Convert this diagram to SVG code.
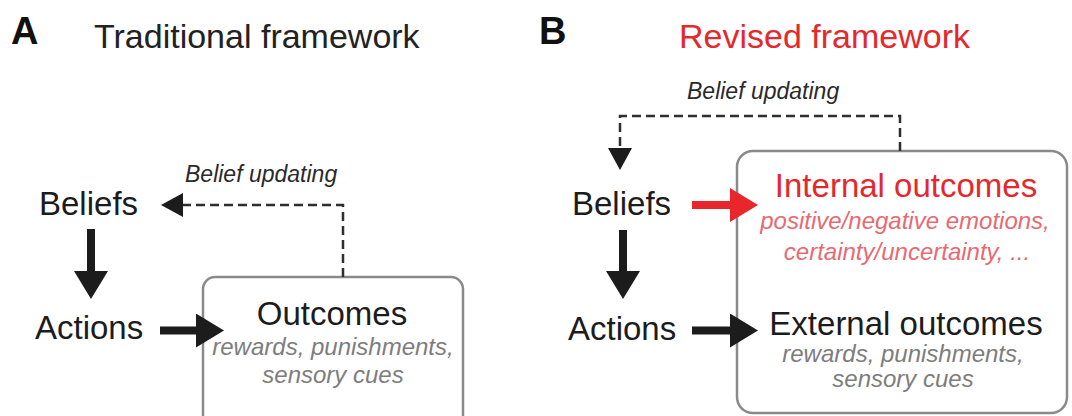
<svg xmlns="http://www.w3.org/2000/svg" width="1072" height="416" viewBox="0 0 1072 416">
<defs>
<style>
text{font-family:"Liberation Sans",Arial,sans-serif;}
.lbl{font-size:33px;fill:#1c1c1c;}
.ttl{font-size:34px;}
.panel{font-size:38px;font-weight:bold;fill:#111;}
.sub{font-size:24px;font-style:italic;fill:#7d7d7d;text-anchor:middle;}
.subr{font-size:24px;font-style:italic;fill:#e76a72;text-anchor:middle;}
.upd{font-size:23px;font-style:italic;fill:#2a2a2a;}
.box{fill:#fff;stroke:#8a8a8a;stroke-width:2.5;}
.thick{stroke:#1c1c1c;stroke-width:8;fill:none;}
.thickr{stroke:#e8262b;stroke-width:8;fill:none;}
.dash{stroke:#2e2e2e;stroke-width:2.5;fill:none;stroke-dasharray:9 5;}
</style>
<marker id="head" markerUnits="userSpaceOnUse" markerWidth="28" markerHeight="34" viewBox="0 0 28 34" refX="0" refY="17" orient="auto">
<path d="M0,0 L28,17 L0,34 z" fill="#1c1c1c"/>
</marker>
<marker id="headr" markerUnits="userSpaceOnUse" markerWidth="28" markerHeight="34" viewBox="0 0 28 34" refX="0" refY="17" orient="auto">
<path d="M0,0 L28,17 L0,34 z" fill="#e8262b"/>
</marker>
<marker id="dhead" markerUnits="userSpaceOnUse" markerWidth="22" markerHeight="24" viewBox="0 0 22 24" refX="0" refY="12" orient="auto">
<path d="M0,0 L22,12 L0,24 z" fill="#1c1c1c"/>
</marker>
</defs>
<rect width="1072" height="416" fill="#fff"/>

<g id="titles">
<text class="panel" x="11" y="44">A</text>
<text class="ttl" x="94" y="48" fill="#222">Traditional framework</text>
<text class="panel" x="539" y="44">B</text>
<text class="ttl" x="679" y="48" fill="#e4282c">Revised framework</text>
</g>

<g id="nodeA-outcomes">
<rect class="box" x="203" y="277" width="260" height="160" rx="12"/>
<text class="lbl" x="332" y="325" text-anchor="middle">Outcomes</text>
<text class="sub" x="333" y="355">rewards, punishments,</text>
<text class="sub" x="333" y="383">sensory cues</text>
</g>
<g id="nodeA-beliefs"><text class="lbl" x="39" y="215">Beliefs</text></g>
<g id="nodeA-actions"><text class="lbl" x="35" y="339">Actions</text></g>

<g id="nodeB-outcomes">
<rect class="box" x="737" y="151" width="330" height="262" rx="16"/>
<text class="lbl" x="906" y="197" text-anchor="middle" style="fill:#e4282c">Internal outcomes</text>
<text class="subr" x="905" y="229">positive/negative emotions,</text>
<text class="subr" x="907" y="260">certainty/uncertainty, ...</text>
<text class="lbl" x="906" y="335" text-anchor="middle">External outcomes</text>
<text class="sub" x="903" y="362">rewards, punishments,</text>
<text class="sub" x="903" y="387">sensory cues</text>
</g>
<g id="nodeB-beliefs"><text class="lbl" x="572" y="215">Beliefs</text></g>
<g id="nodeB-actions"><text class="lbl" x="568" y="340">Actions</text></g>

<g id="connectors">
<line class="thick" x1="91" y1="229" x2="91" y2="271" marker-end="url(#head)"/>
<line class="thick" x1="160" y1="330.5" x2="196" y2="330.5" marker-end="url(#head)"/>
<path class="dash" d="M343,277 V205 H183" marker-end="url(#dhead)"/>
<text class="upd" x="185" y="182">Belief updating</text>

<line class="thick" x1="623" y1="230" x2="623" y2="271" marker-end="url(#head)"/>
<line class="thickr" x1="692" y1="205" x2="730" y2="205" marker-end="url(#headr)"/>
<line class="thick" x1="692" y1="330.5" x2="730" y2="330.5" marker-end="url(#head)"/>
<path class="dash" d="M900,151 V116 H620 V148" marker-end="url(#dhead)"/>
<text class="upd" x="687" y="99">Belief updating</text>
</g>
</svg>
